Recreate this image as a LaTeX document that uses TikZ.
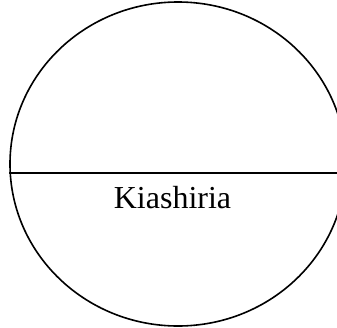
\documentclass[tikz,border=0pt]{standalone}
\usepackage{fontspec}
\setmainfont{Liberation Serif}
\usepackage{tikz}
\usetikzlibrary{shapes.geometric}

\begin{document}
\begin{tikzpicture}[x=1pt, y=-1pt, line width=1.6pt, every node/.style={font=\fontsize{32}{38}\selectfont}]
  \useasboundingbox (0,0) rectangle (337,327);
  \clip (0,0) rectangle (337,327);
  \node[draw, ellipse, inner sep=0pt, minimum width=336pt, minimum height=324pt] (oval) at (178,164) {};
  \draw ([yshift=-9pt]oval.west) -- ([yshift=-9pt]oval.east);
  \node[anchor=base, inner sep=0pt] (lbl) at (172.5,208) {Kiashiria};
\end{tikzpicture}
\end{document}
